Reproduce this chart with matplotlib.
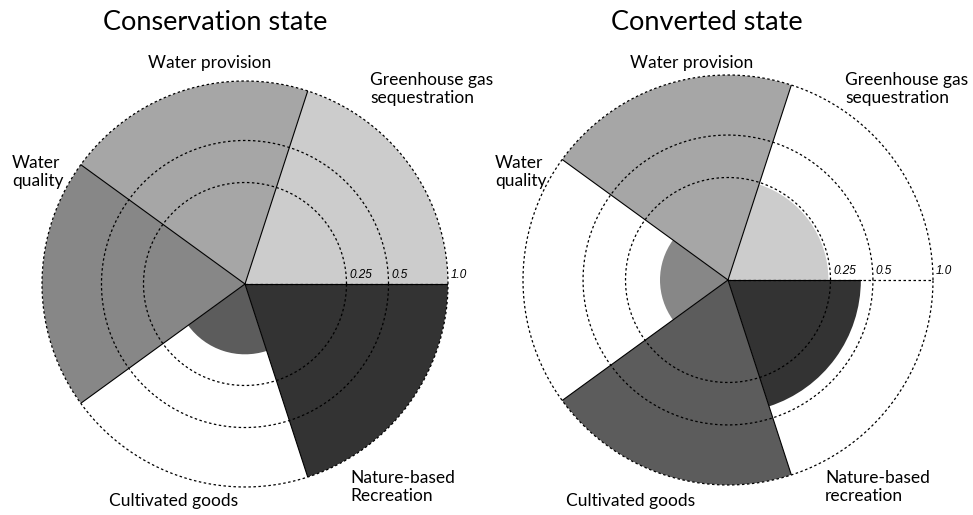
import numpy as np
import matplotlib.pyplot as plt

# services, counter-clockwise from 0 degrees
services = ['Greenhouse gas\nsequestration', 'Water provision', 'Water\nquality',
            'Cultivated goods', 'Nature-based\nRecreation']
services_right = ['Greenhouse gas\nsequestration', 'Water provision', 'Water\nquality',
                  'Cultivated goods', 'Nature-based\nrecreation']
conservation = [1.0, 1.0, 1.0, 0.12, 1.0]
converted = [0.24, 1.0, 0.11, 1.0, 0.42]
shades = ['#cccccc', '#a6a6a6', '#878787', '#5c5c5c', '#333333']
rings = [0.25, 0.5, 1.0]
ring_labels = ['0.25', '0.5', '1.0']

plt.rcParams['font.family'] = ['Lato', 'DejaVu Sans']

fig = plt.figure(figsize=(9.73, 5.15), dpi=100)


def rose(rect, vals, title, labels, label_pos, title_x):
    ax = fig.add_axes(rect, projection='polar')
    n = len(vals)
    width = 2 * np.pi / n
    theta = np.arange(n) * width + width / 2
    r = np.sqrt(vals)  # radius on square-root scale
    ax.bar(theta, r, width=width, color=shades, edgecolor='none', zorder=1)
    # radial edges between sectors
    for i in range(n):
        edge = i * width
        reach = max(r[i], r[i - 1])
        ax.plot([edge, edge], [0, reach], color='black', lw=0.8, zorder=2)
    t = np.linspace(0, 2 * np.pi, 400)
    for ring, lab in zip(rings, ring_labels):
        ax.plot(t, np.full_like(t, np.sqrt(ring)), color='black', lw=0.9,
                ls=(0, (2, 2)), zorder=3, clip_on=False)
        ax.annotate(lab, (0, np.sqrt(ring)), xytext=(2, 2),
                    textcoords='offset points', fontsize=8.5, style='italic',
                    family='Liberation Sans', ha='left', va='bottom', zorder=4)
    ax.plot([0, 0], [0, 1], color='black', lw=0.9, ls=(0, (2, 2)), zorder=3)
    ax.set_ylim(0, 1)
    ax.set_xticks([])
    ax.set_yticks([])
    ax.grid(False)
    ax.spines['polar'].set_visible(False)
    ax.patch.set_alpha(0)
    for lab, (x, y, ha) in zip(labels, label_pos):
        fig.text(x / 973, 1 - y / 515, lab, fontsize=12.5, ha=ha, va='center',
                 linespacing=1.15)
    fig.text(title_x / 973, 1 - 22 / 515, title, fontsize=19.5, ha='center',
             va='center')
    return ax


left_pos = [(370, 89, 'left'), (210, 63, 'center'), (12, 172, 'left'),
            (174, 501, 'center'), (350, 487, 'left')]
right_pos = [(845, 89, 'left'), (692, 63, 'center'), (495, 172, 'left'),
             (631, 501, 'center'), (825, 487, 'left')]

rose([42 / 973, 28 / 515, 406 / 973, 406 / 515], conservation,
     'Conservation state', services, left_pos, 215)
rose([523 / 973, 30 / 515, 410 / 973, 410 / 515], converted,
     'Converted state', services_right, right_pos, 707)

fig.savefig('out.png', dpi=100)
